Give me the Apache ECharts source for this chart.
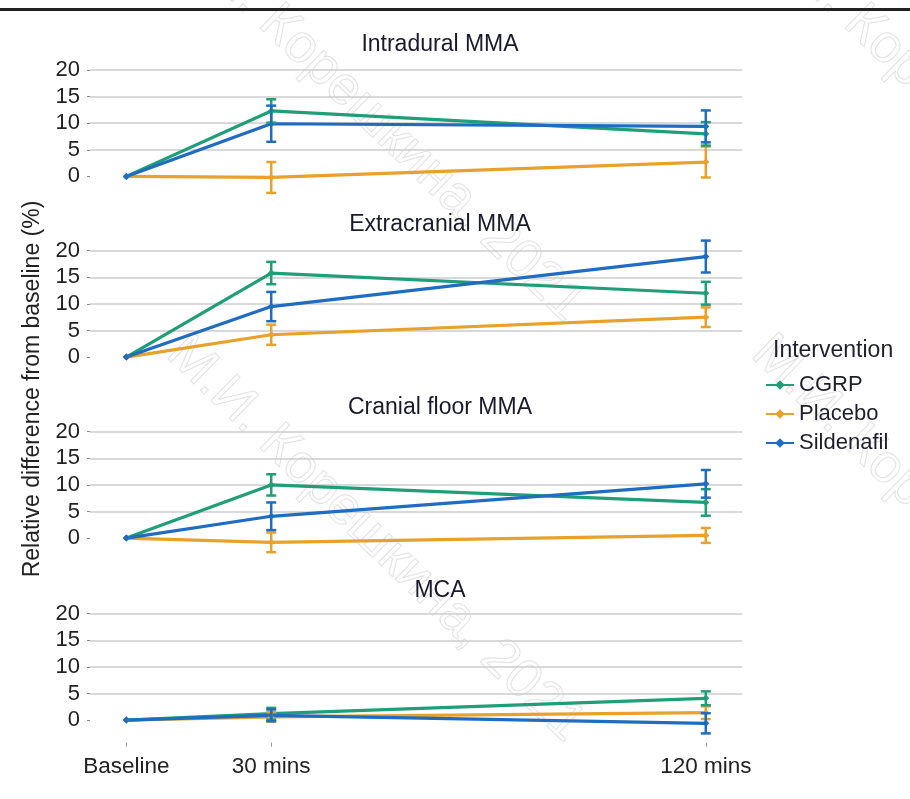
<!DOCTYPE html>
<html>
<head>
<meta charset="utf-8">
<script src="https://cdn.jsdelivr.net/npm/echarts@6/dist/echarts.min.js"></script>
<style>
  html, body { margin: 0; padding: 0; background: #fff; }
  #chart { width: 910px; height: 799px; }
</style>
</head>
<body>
<div id="chart"></div>
<script>
// Time points (minutes after infusion) and their axis labels
const timePoints = [0, 30, 120];
const timeLabels = ['Baseline', '30 mins', '120 mins'];

// One panel per vessel segment
const panelTitles = ['Intradural MMA', 'Extracranial MMA', 'Cranial floor MMA', 'MCA'];

// Interventions
const groups = ['CGRP', 'Placebo', 'Sildenafil'];

// Mean relative change (%) per panel, at timePoints
const cgrpMean       = [[0, 12.3, 8.0], [0, 15.8, 12.0], [0, 10.0, 6.7], [0, 1.2, 4.1]];
const placeboMean    = [[0, -0.2, 2.7], [0, 4.2, 7.5],   [0, -0.8, 0.5], [0, 0.6, 1.4]];
const sildenafilMean = [[0, 9.9, 9.4],  [0, 9.5, 18.9],  [0, 4.1, 10.2], [0, 0.9, -0.6]];

// Error bar half-widths (%) per panel, at timePoints
const cgrpErr        = [[0, 2.2, 2.2], [0, 2.1, 2.15], [0, 2.0, 2.5],  [0, 1.1, 1.3]];
const placeboErr     = [[0, 2.9, 2.9], [0, 1.9, 1.85], [0, 1.85, 1.4], [0, 0.9, 1.2]];
const sildenafilErr  = [[0, 3.4, 3.0], [0, 2.75, 3.0], [0, 2.6, 2.6],  [0, 1.1, 1.9]];

const colors = { CGRP: '#1f9e78', Placebo: '#e8a12a', Sildenafil: '#1f6cc0' };
const means = { CGRP: cgrpMean, Placebo: placeboMean, Sildenafil: sildenafilMean };
const errs  = { CGRP: cgrpErr,  Placebo: placeboErr,  Sildenafil: sildenafilErr };

const FONT = 'Liberation Sans, Arial, Helvetica, sans-serif';
const gridTops = [70, 250.7, 431.7, 613.7];
const gridHeight = 133;

const grids = [], xAxes = [], yAxes = [], series = [];

panelTitles.forEach((title, p) => {
  const last = p === panelTitles.length - 1;
  grids.push({ left: 90, right: 168, top: gridTops[p], height: gridHeight });
  xAxes.push({
    type: 'value', gridIndex: p, min: -7.53, max: 127.5,
    axisLine: { show: false, onZero: false },
    splitLine: { show: false },
    axisTick: { show: last, inside: true, length: 4, customValues: timePoints,
                lineStyle: { color: '#9a9a9a', width: 1 } },
    axisLabel: {
      show: last, customValues: timePoints, margin: 9,
      fontFamily: FONT, fontSize: 22.5, color: '#222',
      formatter: v => timeLabels[timePoints.indexOf(v)] || ''
    }
  });
  yAxes.push({
    type: 'value', gridIndex: p, min: -5, max: 20, interval: 5,
    axisLine: { show: false, onZero: false },
    axisTick: { show: true, length: 3, customValues: [0, 5, 10, 15, 20],
                lineStyle: { color: '#888', width: 1 } },
    splitLine: { show: true, showMinLine: false, lineStyle: { color: '#cdcdcd', width: 1.5 } },
    axisLabel: {
      margin: 10, fontFamily: FONT, fontSize: 22, color: '#222',
      customValues: [0, 5, 10, 15, 20]
    }
  });

  // draw order keeps Sildenafil on top
  ['Placebo', 'CGRP', 'Sildenafil'].forEach(g => {
    const col = colors[g];
    series.push({
      type: 'line', name: g, xAxisIndex: p, yAxisIndex: p,
      data: timePoints.map((t, i) => [t, means[g][p][i]]),
      symbol: 'diamond', symbolSize: 7, showSymbol: true,
      lineStyle: { color: col, width: 3.2 },
      itemStyle: { color: col },
      emphasis: { disabled: true },
      animation: false, z: 3
    });
    series.push({
      type: 'custom', name: g, xAxisIndex: p, yAxisIndex: p,
      clip: false, animation: false, z: 4,
      data: timePoints.map((t, i) => [t, means[g][p][i], errs[g][p][i]]).filter(d => d[2] > 0),
      encode: { x: 0, y: 1 },
      renderItem: (params, api) => {
        const x = api.value(0), m = api.value(1), e = api.value(2);
        const hi = api.coord([x, m + e]);
        const lo = api.coord([x, m - e]);
        const hw = 5;
        const st = { stroke: col, lineWidth: 2.5 };
        return {
          type: 'group', children: [
            { type: 'line', shape: { x1: hi[0], y1: hi[1], x2: lo[0], y2: lo[1] }, style: st },
            { type: 'line', shape: { x1: hi[0] - hw, y1: hi[1], x2: hi[0] + hw, y2: hi[1] }, style: st },
            { type: 'line', shape: { x1: lo[0] - hw, y1: lo[1], x2: lo[0] + hw, y2: lo[1] }, style: st }
          ]
        };
      }
    });
  });
});

const titleCentersY = [45, 225, 408, 591];
const graphics = [
  // rule along the top edge
  { type: 'rect', left: 0, top: 8, shape: { width: 910, height: 3 }, style: { fill: '#222' }, z: 10 },
  // y-axis name
  { type: 'text', x: 33, y: 389, rotation: Math.PI / 2,
    style: { text: 'Relative difference from baseline (%)', font: '23px ' + FONT, fill: '#222',
             align: 'center', verticalAlign: 'middle' }, z: 10 },
  // legend heading
  { type: 'text', x: 773, y: 351,
    style: { text: 'Intervention', font: '23px ' + FONT, fill: '#1e1e2e',
             align: 'left', verticalAlign: 'middle' }, z: 10 }
];
panelTitles.forEach((t, p) => {
  graphics.push({ type: 'text', x: 440, y: titleCentersY[p],
    style: { text: t, font: '23px ' + FONT, fill: '#1a1a2e', align: 'center', verticalAlign: 'middle' }, z: 10 });
});
// faint outlined watermark, tiled
[[175, 345], [760, 345], [175, -75], [760, -75]].forEach(([x, y]) => {
  graphics.push({ type: 'text', x: x, y: y, rotation: -0.77, silent: true,
    style: { text: 'М.И. Корешкина, 2021', font: '54px ' + FONT, fill: 'rgba(0,0,0,0)',
             stroke: '#e2e2e2', lineWidth: 1, align: 'left', verticalAlign: 'middle' }, z: 0 });
});

const chart = echarts.init(document.getElementById('chart'), null, { renderer: 'canvas' });
chart.setOption({
  backgroundColor: '#fff',
  animation: false,
  grid: grids,
  xAxis: xAxes,
  yAxis: yAxes,
  legend: {
    data: groups, orient: 'vertical', left: 760, top: 369,
    itemWidth: 28, itemHeight: 12, itemGap: 7,
    textStyle: { fontFamily: FONT, fontSize: 22, color: '#1e1e2e', lineHeight: 22 }
  },
  graphic: graphics,
  series: series
});
</script>
</body>
</html>
